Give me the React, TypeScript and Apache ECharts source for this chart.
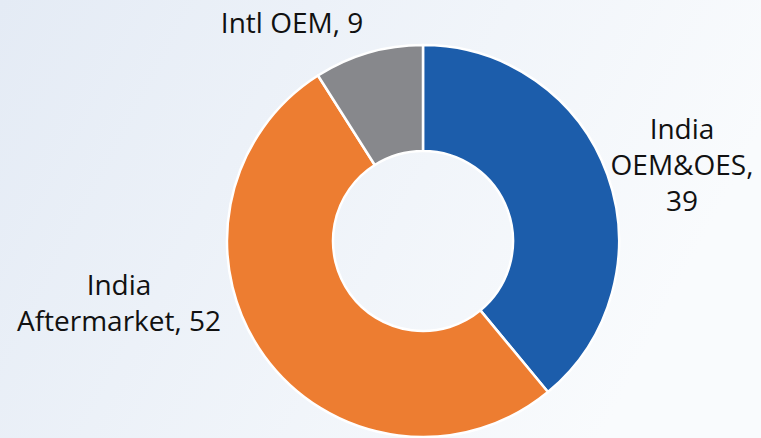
import React, { useEffect, useRef } from "react";
import * as echarts from "echarts";

const categories = ["India OEM&OES", "India Aftermarket", "Intl OEM"];
const labelTexts = ["India\nOEM&OES,", "India\nAftermarket,", "Intl OEM,"];
const values = [39, 52, 9];
const colors = ["#1C5DAB", "#ED7D31", "#87888C"];
// label anchor positions (centre of each text block), in px
const labelAnchors = [
  [682, 164],
  [119, 302],
  [292, 22],
];

export default function App() {
  const ref = useRef<HTMLDivElement>(null);
  useEffect(() => {
    if (!ref.current) return;
    const chart = echarts.init(ref.current, undefined, { renderer: "svg" });
    chart.setOption({
      animation: false,
      backgroundColor: new echarts.graphic.LinearGradient(0, 0, 1, 0.3, [
        { offset: 0, color: "#E4EBF5" },
        { offset: 1, color: "#F9FBFD" },
      ]),
      series: [
        {
          type: "pie",
          center: [423, 241],
          radius: [90, 196],
          startAngle: 90,
          clockwise: true,
          avoidLabelOverlap: false,
          itemStyle: { borderColor: "#FFFFFF", borderWidth: 2.5 },
          labelLine: { show: false },
          label: {
            show: true,
            position: "outside",
            fontFamily: "Open Sans",
            fontSize: 28,
            color: "#111111",
            lineHeight: 36,
            formatter: (p: any) => {
              const txt = labelTexts[p.dataIndex] + " " + p.value;
              const parts = txt.split("\n");
              // put the value on its own line for the first slice
              if (p.dataIndex === 0) {
                return ["{c|India}", "{c|OEM&OES,}", "{c|" + p.value + "}"].join("\n");
              }
              return parts.map((s) => "{c|" + s + "}").join("\n");
            },
            rich: {
              c: {
                align: "center",
                fontFamily: "Open Sans",
                fontSize: 28,
                lineHeight: 36,
                color: "#111111",
              },
            },
          },
          labelLayout: (params: any) => {
            const a = labelAnchors[params.dataIndex];
            return { x: a[0], y: a[1], align: "center", verticalAlign: "middle" };
          },
          data: categories.map((name, i) => ({
            name,
            value: values[i],
            itemStyle: { color: colors[i] },
          })),
        },
      ],
    });
    return () => chart.dispose();
  }, []);
  return (
    <div
      ref={ref}
      style={{ position: "fixed", left: 0, top: 0, width: 761, height: 438 }}
    />
  );
}
